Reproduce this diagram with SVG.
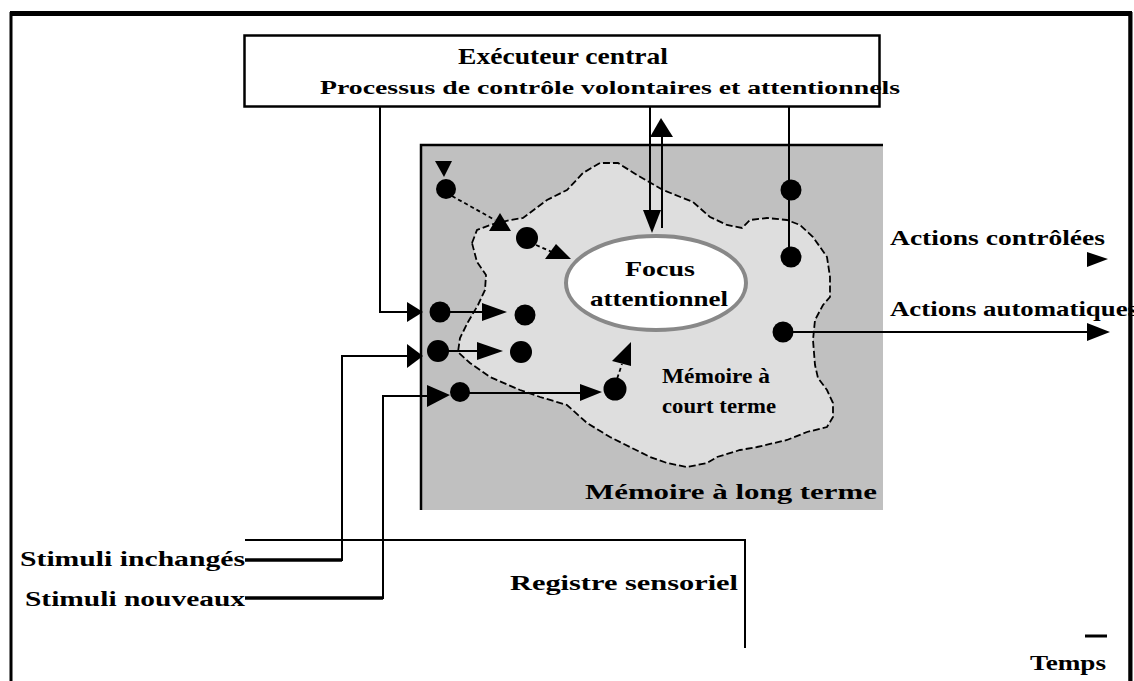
<svg xmlns="http://www.w3.org/2000/svg" width="1134" height="681" viewBox="0 0 1134 681">
  <style>
    .lbl { font-family: "Liberation Serif", "Times New Roman", serif; font-weight: bold; fill: #000; }
    .wire { fill: none; stroke: #000; stroke-width: 2; }
    .thick { fill: none; stroke: #000; stroke-width: 3.5; }
    .dash { fill: none; stroke: #000; stroke-width: 1.8; stroke-dasharray: 4 3; }
    .head { fill: #000; stroke: none; }
    .dot { fill: #000; }
  </style>

  <rect x="0" y="0" width="1134" height="681" fill="#fff"/>

  <!-- outer frame, open at the bottom -->
  <g id="frame">
    <path d="M11,681 V13.5 H1130 V681" fill="none" stroke="#000" stroke-width="3"/>
    <line x1="10" y1="13.5" x2="1132" y2="13.5" stroke="#000" stroke-width="5"/>
    <line x1="1130.5" y1="12" x2="1130.5" y2="681" stroke="#000" stroke-width="4"/>
  </g>

  <!-- long-term memory area -->
  <g id="ltm">
    <rect x="421" y="145" width="462" height="365" fill="#c0c0c0"/>
    <path d="M421,510 V145 H883" fill="none" stroke="#000" stroke-width="2.5"/>
    <text class="lbl" x="585" y="499" font-size="20" textLength="292" lengthAdjust="spacingAndGlyphs">Mémoire à long terme</text>
  </g>

  <!-- short-term memory blob -->
  <g id="stm">
    <path d="M472,243 L477,230 490,225 510,220 523,218 547,200 567,190 583,173 600,163 618,163 637,175 663,190 693,202 710,217 727,225 742,228 750,220 767,218 787,220 800,225 813,237 827,257 830,277 830,297 823,305 815,320 813,340 815,365 818,378 827,390 833,403 833,417 827,427 807,432 787,440 757,447 740,450 717,457 707,463 687,467 667,463 650,457 630,447 610,437 587,423 567,405 540,397 520,390 490,377 470,363 458,352 460,338 468,322 478,305 485,290 486,275 477,262 Z"
          fill="#dedede" stroke="#000" stroke-width="1.8" stroke-dasharray="7 3"/>
    <text class="lbl" x="662" y="383" font-size="20" textLength="108" lengthAdjust="spacingAndGlyphs">Mémoire à</text>
    <text class="lbl" x="662" y="413" font-size="20" textLength="114" lengthAdjust="spacingAndGlyphs">court terme</text>
  </g>

  <!-- attentional focus -->
  <g id="focus">
    <ellipse cx="656" cy="283" rx="90" ry="47" fill="#fff" stroke="#888" stroke-width="4"/>
    <text class="lbl" x="660" y="276" font-size="21" text-anchor="middle" textLength="70" lengthAdjust="spacingAndGlyphs">Focus</text>
    <text class="lbl" x="659" y="306" font-size="21" text-anchor="middle" textLength="138" lengthAdjust="spacingAndGlyphs">attentionnel</text>
  </g>

  <!-- central executive -->
  <g id="executive">
    <rect x="244.5" y="35.5" width="635" height="71" fill="#fff" stroke="#000" stroke-width="2.5"/>
    <text class="lbl" x="563" y="64" font-size="23" text-anchor="middle" textLength="210" lengthAdjust="spacingAndGlyphs">Exécuteur central</text>
    <text class="lbl" x="320" y="94" font-size="19" textLength="580" lengthAdjust="spacingAndGlyphs">Processus de contrôle volontaires et attentionnels</text>
  </g>

  <!-- sensory register -->
  <g id="register">
    <path class="wire" d="M245,540 H745 V648"/>
    <text class="lbl" x="510" y="590" font-size="21" textLength="228" lengthAdjust="spacingAndGlyphs">Registre sensoriel</text>
  </g>

  <g id="stimuli-unchanged">
    <text class="lbl" x="20" y="566" font-size="20" textLength="225" lengthAdjust="spacingAndGlyphs">Stimuli inchangés</text>
  </g>
  <g id="stimuli-new">
    <text class="lbl" x="25" y="606" font-size="20" textLength="220" lengthAdjust="spacingAndGlyphs">Stimuli nouveaux</text>
  </g>

  <g id="actions-controlled">
    <text class="lbl" x="890" y="245" font-size="21" textLength="215" lengthAdjust="spacingAndGlyphs">Actions contrôlées</text>
  </g>
  <g id="actions-automatic">
    <text class="lbl" x="890" y="316" font-size="21" textLength="248" lengthAdjust="spacingAndGlyphs">Actions automatiques</text>
  </g>

  <g id="time">
    <line x1="1085" y1="636" x2="1107" y2="636" stroke="#000" stroke-width="3"/>
    <text class="lbl" x="1030" y="670" font-size="21" textLength="76" lengthAdjust="spacingAndGlyphs">Temps</text>
  </g>

  <!-- connectors -->
  <g id="connectors">
    <!-- executive to first input row -->
    <path class="wire" d="M380,106 V312 H410"/>
    <polygon class="head" points="407,302 423,312 407,322"/>
    <circle class="dot" cx="440" cy="312" r="10.5"/>
    <line class="wire" x1="440" y1="312" x2="484" y2="312"/>
    <polygon class="head" points="482,303 507,312 482,321"/>
    <circle class="dot" cx="525" cy="315" r="10.5"/>

    <!-- unchanged stimuli row -->
    <path class="thick" d="M245,560 H342"/>
    <path class="wire" d="M342,561 V356 H410"/>
    <polygon class="head" points="407,344 423,356 407,368"/>
    <circle class="dot" cx="438" cy="351" r="11"/>
    <line class="wire" x1="438" y1="351" x2="480" y2="351"/>
    <polygon class="head" points="477,342 503,351 477,360"/>
    <circle class="dot" cx="521" cy="352" r="11"/>

    <!-- new stimuli row -->
    <path class="thick" d="M245,598 H383"/>
    <path class="wire" d="M383,599 V396 H430"/>
    <polygon class="head" points="427,385 450,395 427,407"/>
    <circle class="dot" cx="460" cy="392" r="10"/>
    <line class="wire" x1="460" y1="393" x2="583" y2="393"/>
    <polygon class="head" points="580,384 602,392 580,401"/>
    <circle class="dot" cx="615" cy="389" r="11.5"/>
    <line class="dash" x1="615" y1="385" x2="622" y2="364"/>
    <polygon class="head" points="631,342 612,361 631,366"/>

    <!-- retrieval path from long-term memory -->
    <polygon class="head" points="435,161 452,161 444,177"/>
    <circle class="dot" cx="446" cy="189" r="10"/>
    <line class="dash" x1="452" y1="196" x2="495" y2="220"/>
    <polygon class="head" points="500,213 489,231 511,231"/>
    <circle class="dot" cx="527" cy="238" r="11"/>
    <line class="dash" x1="536" y1="245" x2="552" y2="252"/>
    <polygon class="head" points="556,244 545,259 571,259"/>

    <!-- executive to and from the focus -->
    <line class="wire" x1="650" y1="106" x2="650" y2="214"/>
    <polygon class="head" points="643,210 661,210 652,233"/>
    <line class="wire" x1="662" y1="228" x2="662" y2="132"/>
    <polygon class="head" points="661,118 650,137 673,137"/>

    <!-- executive to controlled actions -->
    <line class="wire" x1="789" y1="106" x2="789" y2="257"/>
    <circle class="dot" cx="791" cy="190" r="10.5"/>
    <circle class="dot" cx="791" cy="257" r="10.5"/>
    <polygon class="head" points="1087,252 1108,259 1087,267"/>

    <!-- automatic actions -->
    <circle class="dot" cx="783" cy="332" r="10.5"/>
    <line class="wire" x1="783" y1="332" x2="1092" y2="332"/>
    <polygon class="head" points="1087,323 1110,332 1087,341"/>
  </g>
</svg>
